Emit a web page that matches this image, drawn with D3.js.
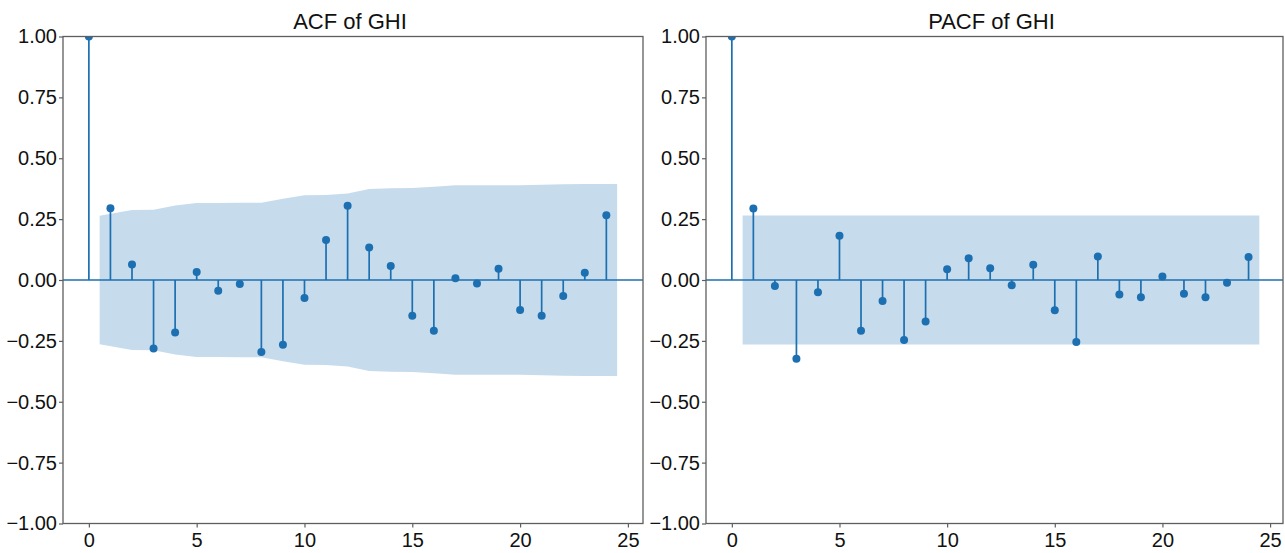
<!DOCTYPE html>
<html>
<head>
<meta charset="utf-8">
<script src="https://cdn.jsdelivr.net/npm/d3@7"></script>
<style>
  html, body { margin: 0; padding: 0; background: #fff; }
  svg { display: block; }
  text { font-family: "Liberation Sans", Arial, sans-serif; fill: #111; }
</style>
</head>
<body>
<svg id="chart" width="1285" height="553"></svg>
<script>
// ---- data ----
const lags = d3.range(0, 25);
const acfValues = [1.0, 0.295, 0.064, -0.281, -0.216, 0.033, -0.044, -0.016, -0.296, -0.266,
  -0.074, 0.164, 0.305, 0.133, 0.057, -0.147, -0.208, 0.007, -0.014, 0.046,
  -0.123, -0.147, -0.066, 0.030, 0.266];
const pacfValues = [1.0, 0.294, -0.025, -0.323, -0.050, 0.182, -0.208, -0.086, -0.246, -0.170,
  0.044, 0.089, 0.048, -0.022, 0.063, -0.124, -0.255, 0.097, -0.060, -0.071,
  0.014, -0.056, -0.071, -0.011, 0.094];
// confidence band half-width, lags 1..24 (first drawn at 0.5, last at 24.5)
const acfBand = [0.264, 0.287, 0.288, 0.306, 0.316, 0.316, 0.317, 0.317, 0.334, 0.348,
  0.349, 0.355, 0.374, 0.377, 0.378, 0.383, 0.389, 0.389, 0.389, 0.389,
  0.391, 0.393, 0.394, 0.394];
const pacfBand = [0.265, 0.265, 0.265, 0.265, 0.265, 0.265, 0.265, 0.265, 0.265, 0.265,
  0.265, 0.265, 0.265, 0.265, 0.265, 0.265, 0.265, 0.265, 0.265, 0.265,
  0.265, 0.265, 0.265, 0.265];
const xTicks = [0, 5, 10, 15, 20, 25];
const yTicks = [1.0, 0.75, 0.5, 0.25, 0.0, -0.25, -0.5, -0.75, -1.0];
const titles = ["ACF of GHI", "PACF of GHI"];

// ---- drawing ----
const svg = d3.select("#chart");
const stemColor = "#1c6fb1";
const bandColor = "#c6dcec";
const spineColor = "#5e5e5e";

const panels = [
  { title: titles[0], values: acfValues, band: acfBand, x0: 63, x1: 643, xdom: [-1.2, 25.7] },
  { title: titles[1], values: pacfValues, band: pacfBand, x0: 706, x1: 1283, xdom: [-1.2, 25.6] }
];
const yTop = 36.5, yBot = 523.5;

panels.forEach((p, i) => {
  const x = d3.scaleLinear().domain(p.xdom).range([p.x0, p.x1]);
  const y = d3.scaleLinear().domain([-1, 1]).range([yBot, yTop]);
  const g = svg.append("g");

  const clipId = "clip" + i;
  svg.append("defs").append("clipPath").attr("id", clipId)
    .append("rect").attr("x", p.x0).attr("y", yTop).attr("width", p.x1 - p.x0).attr("height", yBot - yTop);

  const plot = g.append("g").attr("clip-path", `url(#${clipId})`);

  // band
  const bandPts = p.band.map((v, k) => {
    let lx = k + 1;
    if (k === 0) lx -= 0.5;
    if (k === p.band.length - 1) lx += 0.5;
    return { lx, v };
  });
  const area = d3.area().x(d => x(d.lx)).y0(d => y(-d.v)).y1(d => y(d.v));
  plot.append("path").datum(bandPts).attr("d", area).attr("fill", bandColor);

  // zero line
  plot.append("line")
    .attr("x1", p.x0).attr("x2", p.x1).attr("y1", y(0)).attr("y2", y(0))
    .attr("stroke", stemColor).attr("stroke-width", 1.7);

  // stems
  plot.selectAll("line.stem").data(lags).join("line").attr("class", "stem")
    .attr("x1", d => x(d)).attr("x2", d => x(d))
    .attr("y1", y(0)).attr("y2", d => y(p.values[d]))
    .attr("stroke", stemColor).attr("stroke-width", 1.7);

  // markers
  plot.selectAll("circle").data(lags).join("circle")
    .attr("cx", d => x(d)).attr("cy", d => y(p.values[d])).attr("r", 4)
    .attr("fill", stemColor);

  // spines
  g.append("rect").attr("x", p.x0).attr("y", yTop).attr("width", p.x1 - p.x0).attr("height", yBot - yTop)
    .attr("fill", "none").attr("stroke", spineColor).attr("stroke-width", 1.3);

  // y axis
  const yAxis = d3.axisLeft(y).tickValues(yTicks).tickFormat(d3.format(".2f")).tickSize(4).tickPadding(2);
  const ya = g.append("g").attr("transform", `translate(${p.x0},0)`).call(yAxis);
  ya.select(".domain").remove();
  ya.selectAll(".tick line").attr("stroke", spineColor).attr("stroke-width", 1.2);
  ya.selectAll(".tick text").attr("font-size", 20).attr("fill", "#111")
    .attr("font-family", "Liberation Sans, Arial, sans-serif");

  // x axis
  const xAxis = d3.axisBottom(x).tickValues(xTicks).tickFormat(d3.format("d")).tickSize(4).tickPadding(5);
  const xa = g.append("g").attr("transform", `translate(0,${yBot})`).call(xAxis);
  xa.select(".domain").remove();
  xa.selectAll(".tick line").attr("stroke", spineColor).attr("stroke-width", 1.2);
  xa.selectAll(".tick text").attr("font-size", 20).attr("fill", "#111")
    .attr("font-family", "Liberation Sans, Arial, sans-serif");

  // title
  g.append("text").attr("x", (p.x0 + p.x1) / 2 - 3).attr("y", 28.5)
    .attr("text-anchor", "middle").attr("font-size", 22).text(p.title);
});
</script>
</body>
</html>
